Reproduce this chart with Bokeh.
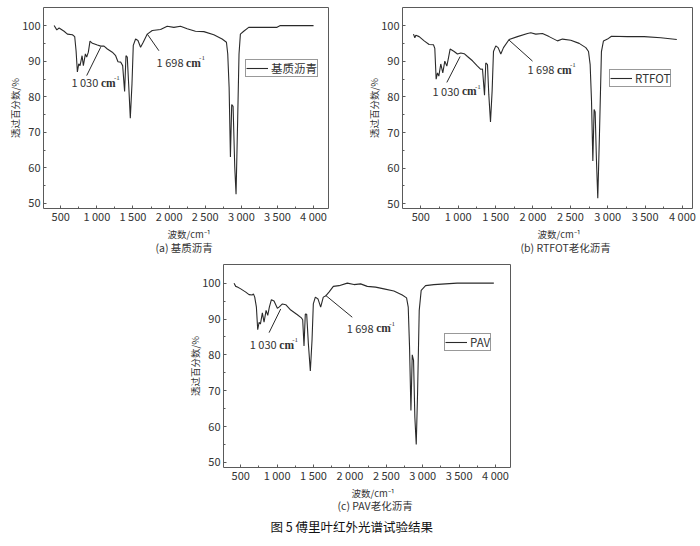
from bokeh.plotting import figure
from bokeh.layouts import column, row
from bokeh.models import Range1d, FixedTicker, Title, ColumnDataSource, LinearAxis
from bokeh.core.properties import value
from bokeh.embed import file_html
from bokeh.resources import INLINE

# ---------------- data ----------------
wn_a = [408, 445, 477, 546, 592, 661, 693, 712, 730, 749, 767, 795, 813, 841, 859, 882, 905, 938, 1007, 1053,
        1099, 1145, 1214, 1260, 1292, 1329, 1357, 1384, 1403, 1421, 1440, 1463, 1486, 1504, 1536, 1569, 1605,
        1642, 1698, 1767, 1882, 1974, 2066, 2158, 2250, 2365, 2481, 2619, 2734, 2794, 2812, 2831, 2849, 2867,
        2886, 2909, 2927, 2950, 2968, 2987, 3033, 3102, 3356, 3494, 3540, 4000]
tr_a = [100.1, 98.9, 99.4, 98.5, 97.7, 97.5, 97.0, 93.0, 87.0, 89.3, 88.8, 91.6, 88.8, 92.1, 91.2, 92.6, 95.7,
        95.1, 94.6, 94.3, 94.3, 93.5, 92.6, 91.6, 89.9, 89.8, 88.8, 81.5, 91.6, 91.2, 83.6, 74.0, 83.6, 94.5,
        96.3, 95.9, 94.0, 95.4, 97.7, 98.7, 99.0, 99.9, 99.6, 99.9, 99.2, 98.5, 98.4, 97.5, 96.3, 95.4, 92.1,
        82.7, 63.0, 77.8, 77.3, 60.2, 52.5, 74.2, 92.1, 97.7, 98.5, 99.6, 99.6, 99.6, 100.1, 100.1]

wn_b = [402, 420, 433, 478, 545, 611, 669, 687, 705, 723, 741, 767, 794, 821, 848, 870, 892, 946, 990, 1035,
        1080, 1124, 1191, 1258, 1302, 1325, 1352, 1369, 1392, 1409, 1432, 1454, 1472, 1503, 1534, 1570, 1606,
        1681, 1793, 1927, 1971, 2038, 2127, 2216, 2328, 2395, 2506, 2618, 2707, 2743, 2765, 2783, 2801, 2818,
        2832, 2849, 2867, 2890, 2916, 2943, 2997, 3050, 3264, 3487, 3710, 3924]
tr_b = [97.7, 96.7, 97.4, 97.0, 95.8, 94.8, 94.7, 93.7, 85.0, 86.8, 85.9, 89.3, 86.8, 90.1, 88.7, 91.0, 93.5,
        92.8, 92.1, 92.4, 92.2, 91.4, 90.2, 88.7, 87.8, 87.9, 80.5, 89.6, 89.1, 80.8, 73.0, 81.8, 92.8, 94.4,
        93.9, 92.1, 93.9, 96.2, 97.0, 97.9, 98.1, 97.7, 97.9, 97.0, 95.8, 96.3, 96.0, 95.1, 93.9, 92.8, 89.1,
        79.0, 62.0, 76.5, 75.8, 62.4, 51.5, 69.8, 92.8, 95.8, 96.3, 97.1, 97.0, 97.0, 96.7, 96.2]

wn_c = [408, 431, 454, 500, 569, 614, 660, 674, 692, 715, 733, 752, 770, 797, 820, 848, 871, 893, 921, 957,
        1003, 1030, 1072, 1118, 1187, 1278, 1333, 1351, 1369, 1387, 1406, 1429, 1456, 1479, 1497, 1525, 1561,
        1598, 1634, 1671, 1712, 1772, 1850, 1964, 2055, 2147, 2238, 2353, 2467, 2604, 2719, 2778, 2801, 2819,
        2838, 2856, 2874, 2892, 2911, 2929, 2952, 2979, 3039, 3153, 3473, 3977]
tr_c = [100.0, 99.1, 98.9, 98.4, 97.5, 96.8, 96.7, 97.0, 96.1, 93.3, 87.0, 89.1, 88.6, 91.7, 89.1, 92.4, 91.0,
        93.3, 95.4, 95.0, 93.0, 93.4, 94.2, 94.0, 92.5, 91.2, 90.3, 89.8, 82.5, 91.4, 91.3, 83.1, 75.5, 84.0,
        94.2, 96.1, 95.6, 93.3, 96.1, 96.5, 97.5, 99.1, 99.3, 100.0, 99.6, 99.8, 99.1, 98.9, 98.4, 97.8, 96.7,
        95.9, 93.3, 82.2, 64.5, 80.0, 78.5, 62.6, 55.0, 69.1, 92.4, 98.0, 99.3, 99.6, 100.0, 100.0]

series_names = ["基质沥青", "RTFOT", "PAV"]
captions = ["(a) 基质沥青", "(b) RTFOT老化沥青", "(c) PAV老化沥青"]
fig_caption = "图 5  傅里叶红外光谱试验结果"
x_title = "波数/cm⁻¹"
y_title = "透过百分数/%"

x_ticks = [500, 1000, 1500, 2000, 2500, 3000, 3500, 4000]
x_tick_labels = ["500", "1 000", "1 500", "2 000", "2 500", "3 000", "3 500", "4 000"]
x_minor = [250, 750, 1250, 1750, 2250, 2750, 3250, 3750]
y_ticks = [50, 60, 70, 80, 90, 100]
y_tick_labels = ["50", "60", "70", "80", "90", "100"]
y_minor = [55, 65, 75, 85, 95]

# annotation texts (number part, unit part) and leader lines, in data coords
ann_numbers = ["1 030", "1 698"]
ann_unit = "cm"
ann_unit_sup = "-1"
ann_a = dict(tx=[647, 1827], ty=[84.1, 89.8], x0=[859, 1698], y0=[86.0, 97.7], x1=[1053, 1859], y1=[94.0, 93.0])
ann_b = dict(tx=[656, 1927], ty=[81.7, 87.8], x0=[848, 1681], y0=[84.1, 96.0], x1=[1026, 1994], y1=[91.4, 90.1])
ann_c = dict(tx=[624, 1955], ty=[83.0, 87.5], x0=[889, 1666], y0=[86.2, 96.6], x1=[1049, 2032], y1=[92.8, 90.5])

FONT = "Noto Sans CJK SC"
SERIF = "Liberation Serif"
AX = "#5a5a5a"
TXT = "#333333"
CURVE = "#2a2a2a"


def frame_axis():
    return LinearAxis(ticker=FixedTicker(ticks=[]), axis_line_color=AX, major_tick_in=0, major_tick_out=0,
                      minor_tick_in=0, minor_tick_out=0, major_label_standoff=0,
                      major_label_text_font_size="0px", axis_label_standoff=0)


def make_panel(wn, tr, name, caption, ann, xr, yr, width, height, mb, legend_loc, xt_offset, cap_offset,
               cap_standoff):
    p = figure(width=width, height=height, x_range=Range1d(*xr), y_range=Range1d(*yr),
               output_backend="svg", toolbar_location=None,
               min_border_left=mb[0], min_border_right=mb[1], min_border_top=mb[2], min_border_bottom=mb[3])
    p.grid.visible = False
    p.outline_line_color = None
    p.background_fill_color = "white"
    p.border_fill_color = "white"

    p.line(wn, tr, line_color=CURVE, line_width=1.1, legend_label=name)

    n = len(ann["tx"])
    src = ColumnDataSource(dict(tx=ann["tx"], ty=ann["ty"], x0=ann["x0"], y0=ann["y0"],
                                x1=ann["x1"], y1=ann["y1"], t=ann_numbers,
                                u=[ann_unit] * n, s=[ann_unit_sup] * n))
    p.segment("x0", "y0", "x1", "y1", source=src, line_color=CURVE, line_width=1)
    p.text("tx", "ty", text="t", source=src, text_font=value(FONT), text_font_size="11px",
           text_color=TXT, text_align="left", text_baseline="middle")
    p.text("tx", "ty", text="u", source=src, text_font=value(SERIF), text_font_size="11.5px",
           text_font_style="bold", text_color=TXT, text_align="left", text_baseline="middle",
           x_offset=29.5, y_offset=0.5)
    p.text("tx", "ty", text="s", source=src, text_font=value(SERIF), text_font_size="7px",
           text_color=TXT, text_align="left", text_baseline="middle", x_offset=42.5, y_offset=-4)

    for ax, ticks, labels, minor in ((p.xaxis[0], x_ticks, x_tick_labels, x_minor),
                                     (p.yaxis[0], y_ticks, y_tick_labels, y_minor)):
        ax.ticker = FixedTicker(ticks=ticks, minor_ticks=minor)
        ax.major_label_overrides = dict(zip(ticks, labels))
        ax.axis_line_color = AX
        ax.major_tick_line_color = AX
        ax.minor_tick_line_color = AX
        ax.major_tick_in = 3
        ax.major_tick_out = 0
        ax.minor_tick_in = 2
        ax.minor_tick_out = 0
        ax.major_label_text_font = FONT
        ax.major_label_text_font_size = "11px"
        ax.major_label_text_color = TXT
        ax.axis_label_text_font = FONT
        ax.axis_label_text_font_size = "9.5px"
        ax.axis_label_text_font_style = "normal"
        ax.axis_label_text_color = TXT
    p.yaxis.axis_label = y_title
    p.xaxis.major_label_standoff = -1
    p.yaxis.major_label_standoff = 3
    p.yaxis.axis_label_standoff = -3

    p.add_layout(frame_axis(), "above")
    p.add_layout(frame_axis(), "right")

    lg = p.legend[0]
    lg.location = legend_loc
    lg.label_text_font = FONT
    lg.label_text_font_size = "11.5px"
    lg.label_text_color = TXT
    lg.border_line_color = "#333333"
    lg.border_line_width = 1
    lg.background_fill_alpha = 1
    lg.padding = 0
    lg.margin = 0
    lg.spacing = 0
    lg.glyph_width = 22
    lg.glyph_height = 10
    lg.label_height = 10
    lg.label_standoff = 3

    p.add_layout(Title(text=x_title, align="left", offset=xt_offset, text_font=FONT, text_font_size="9.5px",
                       text_font_style="normal", text_color=TXT, standoff=-4), "below")
    p.add_layout(Title(text=caption, align="left", offset=cap_offset, text_font=FONT, text_font_size="10.5px",
                       text_font_style="normal", text_color=TXT, standoff=cap_standoff), "below")
    return p


# frame A: x 43..328, y 7..208 ; frame B: x 402..692, y 5..210 ; frame C: x 223..510, y 264..467
pa = make_panel(wn_a, tr_a, series_names[0], captions[0], ann_a, (261, 4207), (48.5, 105.2),
                360, 262, (43, 32, 7, 54), (202, 131), 124, 112, -2)
pb = make_panel(wn_b, tr_b, series_names[1], captions[1], ann_b, (255, 4134), (48.6, 105.2),
                340, 262, (42, 8, 5, 52), (207, 121), 135, 118, -2)
pc = make_panel(wn_c, tr_c, series_names[2], captions[2], ann_c, (263, 4206), (48.6, 105.2),
                700, 284, (223, 190, 2, 79), (221, 116), 128, 114, -4)
pc.add_layout(Title(text=fig_caption, align="left", offset=47, text_font=FONT, text_font_size="12.5px",
                    text_font_style="normal", text_color="#111111", standoff=9), "below")

layout = column(row(pa, pb), pc)
open("out.html", "w").write(file_html(layout, INLINE))
